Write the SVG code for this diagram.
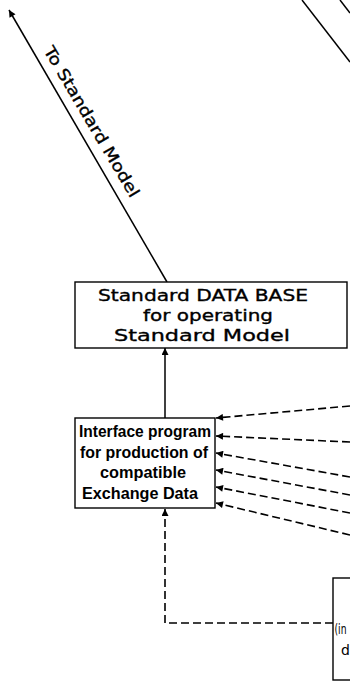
<svg xmlns="http://www.w3.org/2000/svg" width="350" height="688" viewBox="0 0 350 688">
<style>
.ln{stroke:#000;stroke-width:1.5;fill:none}
.ds{stroke:#000;stroke-width:1.6;fill:none;stroke-dasharray:8 4}
.bx{stroke:#000;stroke-width:1.4;fill:#fff}
.t1{font-family:"DejaVu Sans","Liberation Sans",sans-serif;font-size:16px;fill:#000;stroke:#000;stroke-width:0.35;text-anchor:middle}
.t2{font-family:"Liberation Sans","DejaVu Sans",sans-serif;font-size:17px;font-weight:bold;fill:#000;text-anchor:middle}
.t3{font-family:"DejaVu Sans","Liberation Sans",sans-serif;font-size:14px;fill:#000;text-anchor:start}
</style>
<defs>
<marker id="ah" viewBox="0 0 10 10" refX="10" refY="5" markerWidth="8" markerHeight="7" markerUnits="userSpaceOnUse" orient="auto">
<path d="M0,0 L10,5 L0,10 z" fill="#000"/>
</marker>
</defs>
<rect width="350" height="688" fill="#fff"/>
<g id="connectors">
<line class="ln" x1="167" y1="282" x2="9" y2="10" marker-end="url(#ah)"/>
<line class="ln" x1="302" y1="0" x2="350" y2="62"/>
<line class="ln" x1="340" y1="0" x2="350" y2="13"/>
<line class="ln" x1="165" y1="418" x2="165" y2="348" marker-end="url(#ah)"/>
<line class="ds" x1="350" y1="406" x2="216" y2="418" marker-end="url(#ah)"/>
<line class="ds" x1="350" y1="442" x2="216" y2="436" marker-end="url(#ah)"/>
<line class="ds" x1="350" y1="477" x2="216" y2="453" marker-end="url(#ah)"/>
<line class="ds" x1="350" y1="495" x2="216" y2="470" marker-end="url(#ah)"/>
<line class="ds" x1="350" y1="513" x2="216" y2="487" marker-end="url(#ah)"/>
<line class="ds" x1="350" y1="535" x2="216" y2="503" marker-end="url(#ah)"/>
<polyline class="ds" points="333,623 165,623 165,509" marker-end="url(#ah)"/>
<text transform="translate(87,124.5) rotate(59.5)" class="t1" textLength="172" lengthAdjust="spacingAndGlyphs">To Standard Model</text>
</g>
<g id="database">
<rect class="bx" x="75" y="282" width="272" height="66"/>
<text class="t1" x="203" y="301" textLength="210" lengthAdjust="spacingAndGlyphs">Standard DATA BASE</text>
<text class="t1" x="208" y="321" textLength="130" lengthAdjust="spacingAndGlyphs">for operating</text>
<text class="t1" x="202" y="341" textLength="176" lengthAdjust="spacingAndGlyphs">Standard  Model</text>
</g>
<g id="interface">
<rect class="bx" x="75" y="418" width="140" height="90"/>
<text class="t2" x="145" y="437" textLength="132" lengthAdjust="spacingAndGlyphs">Interface program</text>
<text class="t2" x="144" y="458" textLength="128" lengthAdjust="spacingAndGlyphs">for production of</text>
<text class="t2" x="143" y="478" textLength="86" lengthAdjust="spacingAndGlyphs">compatible</text>
<text class="t2" x="140" y="499" textLength="116" lengthAdjust="spacingAndGlyphs">Exchange  Data</text>
</g>
<g id="source">
<rect class="bx" x="333" y="578" width="30" height="102"/>
<text class="t3" x="334.5" y="634" textLength="12" lengthAdjust="spacingAndGlyphs">(in</text>
<text class="t3" x="341" y="655">d</text>
</g>
</svg>
